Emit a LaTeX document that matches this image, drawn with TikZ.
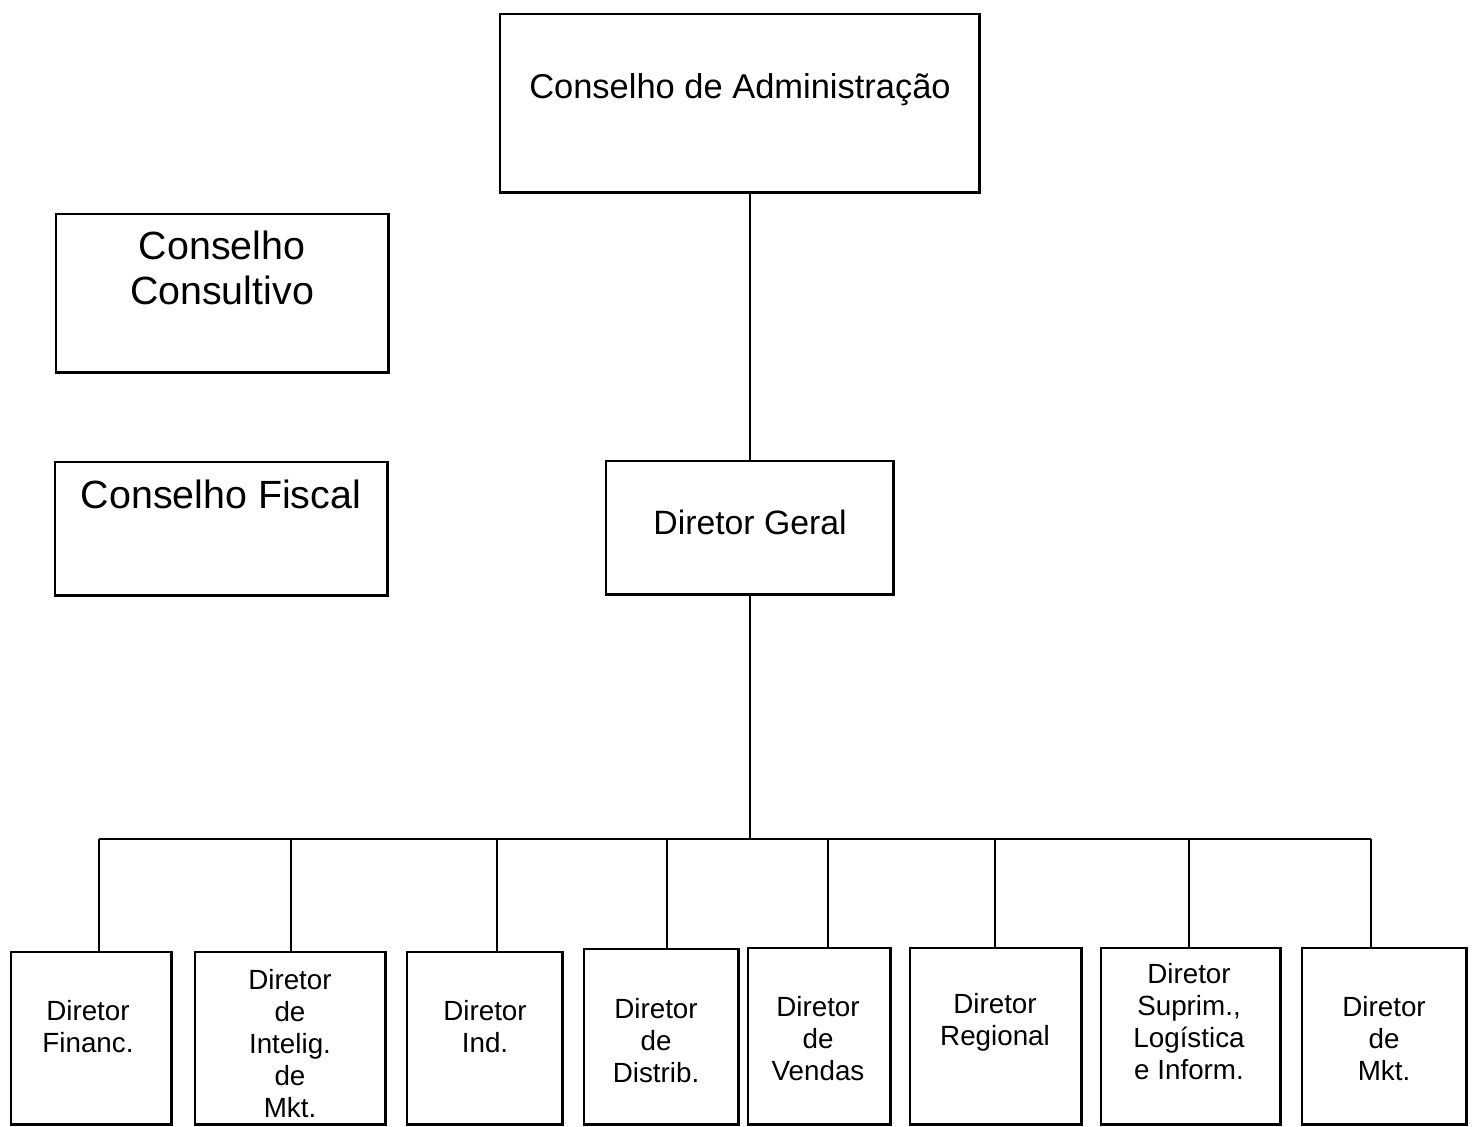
\documentclass[tikz,border=0pt]{standalone}
\usepackage{fontspec}
\setmainfont{Liberation Sans}
\usepackage{tikz}
\usetikzlibrary{positioning}
\tikzset{
  box/.style={draw, line width=0.7pt, inner sep=0pt, anchor=north west},
  conn/.style={line width=0.7pt},
  topTxt/.style={font=\fontsize{9.8}{11.3}\selectfont, align=center},   % Conselho de Administracao
  sideTxt/.style={font=\fontsize{11.2}{12.8}\selectfont, align=center}, % left councils
  geralTxt/.style={font=\fontsize{9.6}{11}\selectfont, align=center},
  dirTxt/.style={font=\fontsize{7.9}{9.1}\selectfont, align=center}     % bottom row
}
\begin{document}
\begin{tikzpicture}[x=0.01cm, y=-0.01cm]
  \useasboundingbox (0,0) rectangle (1474,1126);

  % upper level
  \node[box, minimum width=4.79cm, minimum height=1.78cm] (ca) at (499,13) {};
  \node[topTxt] (caT) at (740,90) {Conselho de Administração};
  \node[box, minimum width=3.32cm, minimum height=1.58cm] (cc) at (55,213) {};
  \node[sideTxt] (ccT) at (222,268) {Conselho\\Consultivo};
  \node[box, minimum width=3.32cm, minimum height=1.33cm] (cf) at (54,461) {};
  \node[sideTxt] (cfT) at (221,494) {Conselho Fiscal};
  \node[box, minimum width=2.87cm, minimum height=1.33cm] (dg) at (605,460) {};
  \node[geralTxt] (dgT) at (750,522) {Diretor Geral};

  % directors
  \node[box, minimum width=1.60cm, minimum height=1.72cm] (fin) at (10,951) {};
  \node[dirTxt] (finT) at (88,1027) {Diretor\\Financ.};
  \node[box, minimum width=1.90cm, minimum height=1.72cm] (intel) at (194,951) {};
  \node[dirTxt] (intelT) at (290,1044) {Diretor\\de\\Intelig.\\de\\Mkt.};
  \node[box, minimum width=1.55cm, minimum height=1.72cm] (ind) at (406,951) {};
  \node[dirTxt] (indT) at (485,1027) {Diretor\\Ind.};
  \node[box, minimum width=1.54cm, minimum height=1.75cm] (dist) at (583,948) {};
  \node[dirTxt] (distT) at (656,1041) {Diretor\\de\\Distrib.};
  \node[box, minimum width=1.42cm, minimum height=1.76cm] (vend) at (747,947) {};
  \node[dirTxt] (vendT) at (818,1039) {Diretor\\de\\Vendas};
  \node[box, minimum width=1.71cm, minimum height=1.76cm] (reg) at (909,947) {};
  \node[dirTxt] (regT) at (995,1022) {Diretor\\Regional};
  \node[box, minimum width=1.79cm, minimum height=1.76cm] (sup) at (1100,947) {};
  \node[dirTxt] (supT) at (1189,1022) {Diretor\\Suprim.,\\Logística\\e Inform.};
  \node[box, minimum width=1.64cm, minimum height=1.76cm] (mkt) at (1301,947) {};
  \node[dirTxt] (mktT) at (1384,1039) {Diretor\\de\\Mkt.};

  % connectors
  \coordinate (finD) at (99,839);
  \coordinate (intelD) at (291,839);
  \coordinate (indD) at (497,839);
  \coordinate (distD) at (667,839);
  \coordinate (vendD) at (828,839);
  \coordinate (regD) at (995,839);
  \coordinate (supD) at (1189,839);
  \coordinate (mktD) at (1371,839);
  \draw[conn] (dg.north |- ca.south) -- (dg.north);
  \draw[conn] (dg.south) -- (dg.south |- finD);
  \draw[conn] (finD) -- (mktD);
  \draw[conn] (finD) -- (finD |- fin.north);
  \draw[conn] (intelD) -- (intelD |- intel.north);
  \draw[conn] (indD) -- (indD |- ind.north);
  \draw[conn] (distD) -- (distD |- dist.north);
  \draw[conn] (vendD) -- (vendD |- vend.north);
  \draw[conn] (regD) -- (regD |- reg.north);
  \draw[conn] (supD) -- (supD |- sup.north);
  \draw[conn] (mktD) -- (mktD |- mkt.north);
\end{tikzpicture}
\end{document}
